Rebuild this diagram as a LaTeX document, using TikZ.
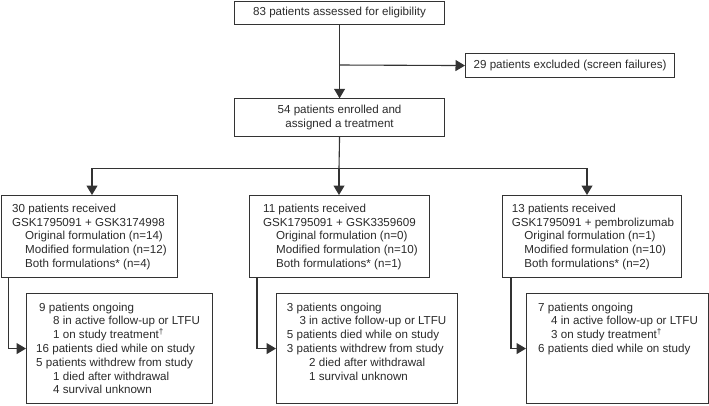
\documentclass[tikz,border=0pt]{standalone}
\usepackage{fontspec}
\setmainfont{Liberation Sans}
\usetikzlibrary{arrows.meta}
\definecolor{ink}{HTML}{2A2A2A}
\definecolor{lineink}{HTML}{333333}
\tikzset{
  box/.style={draw=lineink, line width=1.1pt, inner sep=0pt, anchor=north west, text=ink},
  txt/.style={inner sep=0pt, anchor=north west, align=left, text=ink},
  conn/.style={draw=lineink, line width=1.1pt},
  arr/.style={conn, -{Triangle[length=9.5pt,width=11pt]}},
  every node/.append style={font=\fontsize{11.6}{13.8}\selectfont}
}
\newcommand{\ind}[1]{\hspace*{#1pt}}
\begin{document}
\begin{tikzpicture}[x=1pt,y=-1pt]
\useasboundingbox (0,0) rectangle (709,405);
% top boxes
\node[box, minimum width=210pt, minimum height=23pt] (top) at (234,0.6) {83 patients assessed for eligibility};
\node[box, minimum width=209pt, minimum height=23.4pt] (excl) at (465,53.3) {29 patients excluded (screen failures)};
\node[box, minimum width=210pt, minimum height=37.4pt, align=center, font=\fontsize{11.6}{14}\selectfont] (enr) at (234,98.3) {54 patients enrolled and\\assigned a treatment};
% group boxes
\node[box, minimum width=176.4pt, minimum height=82pt] (g1) at (0.6,195) {};
\node[box, minimum width=180pt, minimum height=82pt] (g2) at (249,195) {};
\node[box, minimum width=179pt, minimum height=82pt] (g3) at (502,195) {};
\node[txt] (t1) at (12,203.7) {30 patients received\\GSK1795091 + GSK3174998\\\ind{13}Original formulation (n=14)\\\ind{13}Modified formulation (n=12)\\\ind{13}Both formulations* (n=4)};
\node[txt] (t2) at (263,203.7) {11 patients received\\GSK1795091 + GSK3359609\\\ind{13}Original formulation (n=0)\\\ind{13}Modified formulation (n=10)\\\ind{13}Both formulations* (n=1)};
\node[txt] (t3) at (511.7,203.7) {13 patients received\\GSK1795091 + pembrolizumab\\\ind{12.5}Original formulation (n=1)\\\ind{12.5}Modified formulation (n=10)\\\ind{12.5}Both formulations* (n=2)};
% outcome boxes
\node[box, minimum width=186pt, minimum height=110pt] (o1) at (26,293) {};
\node[box, minimum width=181pt, minimum height=110pt] (o2) at (276,293) {};
\node[box, minimum width=181.6pt, minimum height=110pt] (o3) at (526,293) {};
\node[txt] (u1) at (36,302.4) {\ind{3}9 patients ongoing\\\ind{17}8 in active follow-up or LTFU\\\ind{17}1 on study treatment\textsuperscript{†}\\16 patients died while on study\\5 patients withdrew from study\\\ind{17}1 died after withdrawal\\\ind{17}4 survival unknown};
\node[txt] (u2) at (286.7,302.4) {3 patients ongoing\\\ind{12.6}3 in active follow-up or LTFU\\5 patients died while on study\\3 patients withdrew from study\\\ind{22.3}2 died after withdrawal\\\ind{22.3}1 survival unknown};
\node[txt] (u3) at (538,302.4) {7 patients ongoing\\\ind{13}4 in active follow-up or LTFU\\\ind{13}3 on study treatment\textsuperscript{†}\\6 patients died while on study};
% connectors
\coordinate (split) at (339,65);
\coordinate (hub) at (339,168.3);
\coordinate (hl) at (92,168.3);
\coordinate (hr) at (587,168.3);
\draw[arr] (top.south) -- (enr.north);
\draw[arr] (split) -- (excl.west);
\draw[conn] (enr.south) -- (hub);
\draw[conn] (hl) -- (hr);
\draw[arr] (hl) -- (hl |- g1.north);
\draw[arr] (hub) -- (hub |- g2.north);
\draw[arr] (hr) -- (hr |- g3.north);
\draw[arr] ([xshift=8.1pt]g1.south west) |- (o1.west);
\draw[arr] ([xshift=8pt]g2.south west) |- (o2.west);
\draw[arr] ([xshift=9pt]g3.south west) |- (o3.west);
\end{tikzpicture}
\end{document}
